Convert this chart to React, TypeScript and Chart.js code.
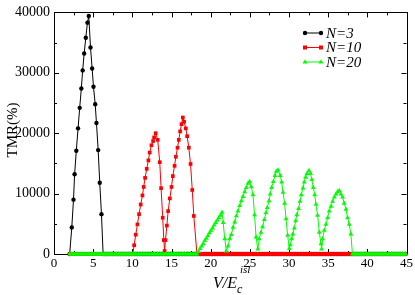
import React, { useEffect, useRef } from "react";
import { Chart, registerables } from "chart.js";

Chart.register(...registerables);

// ---- axis ticks ----
const X_TICKS = [0, 5, 10, 15, 20, 25, 30, 35, 40, 45];
const Y_TICKS = [0, 10000, 20000, 30000, 40000];

// ---- series ----
const SERIES_NAMES = ["N=3", "N=10", "N=20"];
const SAMPLE_STEP = 0.2; // spacing of the baseline (zero) samples

// N=3 : non-zero part [V/Ec, TMR%]
const N3_PEAK: [number, number][] = [
  [2.0, 0], [2.27, 4400], [2.49, 9000], [2.63, 13200], [2.85, 17100],
  [3.07, 20800], [3.28, 24200], [3.49, 27400], [3.66, 30400], [3.85, 33200],
  [4.06, 35800], [4.27, 38300], [4.44, 39400], [4.66, 34200], [4.87, 30700],
  [5.04, 27700], [5.26, 24800], [5.42, 21700], [5.64, 17200], [5.84, 11800],
  [6.06, 6600], [6.27, 0],
];
const N3_ZERO_RUNS: [number, number][] = [[6.47, 45]];

// N=10
const N10_PEAK: [number, number][] = [
  [10.05, 0], [10.23, 1450], [10.44, 3200], [10.65, 4900], [10.86, 6600],
  [11.07, 8200], [11.29, 9700], [11.45, 11100], [11.63, 12600], [11.84, 14100],
  [12.05, 15500], [12.22, 16800], [12.44, 18000], [12.65, 18700], [12.78, 19300],
  [12.98, 20000], [13.24, 18900], [13.5, 15200], [13.67, 10900], [13.88, 6000],
  [14.02, 2300], [14.12, 500],
  [14.23, 2300], [14.41, 4700], [14.57, 7100], [14.79, 9200], [15.0, 11100],
  [15.17, 12900], [15.39, 14600], [15.56, 16100], [15.77, 17600], [15.93, 18900],
  [16.1, 20300], [16.28, 21500], [16.45, 22600], [16.61, 21900], [16.83, 20800],
  [17.0, 19500], [17.21, 17600], [17.43, 14900], [17.65, 10600], [17.85, 6300],
  [18.25, 0],
];
const N10_ZERO_RUNS: [number, number][] = [[2.0, 9.85], [18.45, 45]];

// N=20
const N20_PEAK: [number, number][] = [
  [18.25, 0], [18.45, 400], [18.65, 900], [18.85, 1300], [19.05, 1700],
  [19.25, 2200], [19.45, 2600], [19.65, 3000], [19.85, 3500], [20.05, 3900],
  [20.25, 4300], [20.45, 4800], [20.65, 5200], [20.85, 5600], [21.05, 6000],
  [21.25, 6400], [21.45, 6900], [21.6, 5200], [21.8, 2500], [22.0, 500],
  [22.22, 1300], [22.43, 2500], [22.64, 3200], [22.86, 4400], [23.07, 5300],
  [23.28, 6300], [23.49, 7100], [23.7, 8000], [23.92, 8800], [24.13, 9500],
  [24.34, 10300], [24.55, 11000], [24.77, 11700], [24.98, 12000], [25.19, 11100],
  [25.4, 9800], [25.6, 6500], [25.8, 2800], [26.02, 800],
  [26.2, 2500], [26.43, 3600], [26.63, 4500], [26.85, 5700], [27.06, 6800],
  [27.23, 7700], [27.45, 8800], [27.6, 9900], [27.78, 11000], [28.0, 12000],
  [28.21, 13000], [28.38, 13700], [28.6, 13900], [28.89, 13000], [29.06, 11900],
  [29.24, 10200], [29.44, 8400], [29.62, 5800], [29.83, 3100], [30.04, 900],
  [30.17, 1500], [30.34, 2500], [30.5, 3300], [30.68, 4300], [30.85, 5500],
  [31.0, 6500], [31.22, 7500], [31.4, 8700], [31.57, 9800], [31.78, 10900],
  [31.95, 11900], [32.12, 12700], [32.3, 13300], [32.55, 13800], [32.75, 13300],
  [32.92, 12300], [33.1, 11000], [33.28, 9800], [33.45, 8200], [33.65, 6400],
  [33.87, 3600], [34.08, 1700], [34.16, 800],
  [34.29, 2500], [34.5, 3900], [34.72, 4900], [34.93, 6000], [35.14, 7100],
  [35.36, 7900], [35.56, 8700], [35.78, 9400], [36.0, 9900], [36.2, 10300],
  [36.42, 10500], [36.63, 9900], [36.84, 9400], [37.05, 8400], [37.27, 7400],
  [37.48, 6000], [37.69, 4900], [37.9, 3300], [38.1, 0],
];
const N20_ZERO_RUNS: [number, number][] = [[2.0, 18.05], [38.3, 45]];

const COLORS = ["#000000", "#ff0000", "#00ff00"];
const SERIF = "'Liberation Serif', 'DejaVu Serif', serif";

function buildSeries(peak: [number, number][], runs: [number, number][]) {
  const pts: { x: number; y: number }[] = peak.map(([x, y]) => ({ x, y }));
  runs.forEach(([a, b]) => {
    for (let i = 0; a + i * SAMPLE_STEP <= b + 1e-9; i++) {
      pts.push({ x: +(a + i * SAMPLE_STEP).toFixed(3), y: 0 });
    }
  });
  pts.sort((p, q) => p.x - q.x);
  return pts;
}

const frameAndTicks = {
  id: "frameAndTicks",
  beforeDatasetsDraw(chart: any) {
    const { ctx, chartArea } = chart;
    const { left, right, top, bottom } = chartArea;
    const xs = chart.scales.x;
    const ys = chart.scales.y;
    ctx.save();
    ctx.strokeStyle = "#000";
    ctx.lineWidth = 1;
    ctx.strokeRect(Math.round(left) + 0.5, Math.round(top) + 0.5, Math.round(right - left), Math.round(bottom - top));
    ctx.beginPath();
    for (let i = 0; i < X_TICKS.length; i++) {
      const v = X_TICKS[i];
      const px = Math.round(xs.getPixelForValue(v)) + 0.5;
      ctx.moveTo(px, bottom); ctx.lineTo(px, bottom - 5);
      ctx.moveTo(px, top); ctx.lineTo(px, top + 5);
      if (i < X_TICKS.length - 1) {
        const m = Math.round(xs.getPixelForValue((v + X_TICKS[i + 1]) / 2)) + 0.5;
        ctx.moveTo(m, bottom); ctx.lineTo(m, bottom - 3);
        ctx.moveTo(m, top); ctx.lineTo(m, top + 3);
      }
    }
    for (let i = 0; i < Y_TICKS.length; i++) {
      const v = Y_TICKS[i];
      const py = Math.round(ys.getPixelForValue(v)) + 0.5;
      ctx.moveTo(left, py); ctx.lineTo(left + 5, py);
      ctx.moveTo(right, py); ctx.lineTo(right - 5, py);
      if (i < Y_TICKS.length - 1) {
        const m = Math.round(ys.getPixelForValue((v + Y_TICKS[i + 1]) / 2)) + 0.5;
        ctx.moveTo(left, m); ctx.lineTo(left + 3, m);
        ctx.moveTo(right, m); ctx.lineTo(right - 3, m);
      }
    }
    ctx.stroke();
    ctx.restore();
  },
};

function drawMarker(ctx: CanvasRenderingContext2D, kind: number, x: number, y: number) {
  ctx.beginPath();
  if (kind === 0) {
    ctx.arc(x, y, 2.2, 0, Math.PI * 2);
  } else if (kind === 1) {
    ctx.rect(x - 2, y - 2, 4, 4);
  } else {
    ctx.moveTo(x, y - 2.8);
    ctx.lineTo(x + 2.5, y + 1.6);
    ctx.lineTo(x - 2.5, y + 1.6);
    ctx.closePath();
  }
  ctx.fill();
}

const legendAndTitles = {
  id: "legendAndTitles",
  afterDraw(chart: any) {
    const { ctx } = chart;
    ctx.save();
    // legend
    const rows = [33, 47.5, 62];
    SERIES_NAMES.forEach((name, i) => {
      const y = rows[i];
      ctx.strokeStyle = COLORS[i];
      ctx.fillStyle = COLORS[i];
      ctx.lineWidth = 1;
      ctx.beginPath();
      ctx.moveTo(305, y);
      ctx.lineTo(321, y);
      ctx.stroke();
      drawMarker(ctx, i, 305, y);
      drawMarker(ctx, i, 321, y);
      ctx.fillStyle = "#000";
      ctx.font = `italic 15px ${SERIF}`;
      ctx.textBaseline = "middle";
      ctx.textAlign = "left";
      ctx.fillText(name, 326, y + 1);
    });
    // y title
    ctx.save();
    ctx.translate(13, 130);
    ctx.rotate(-Math.PI / 2);
    ctx.font = `15px ${SERIF}`;
    ctx.fillStyle = "#000";
    ctx.textAlign = "center";
    ctx.textBaseline = "middle";
    ctx.fillText("TMR(%)", 0, 0);
    ctx.restore();
    // x title: V/E_c^isl
    ctx.fillStyle = "#000";
    ctx.textAlign = "left";
    ctx.textBaseline = "alphabetic";
    ctx.font = `italic 16px ${SERIF}`;
    ctx.fillText("V/E", 213, 288);
    const w = ctx.measureText("V/E").width;
    ctx.font = `italic 12px ${SERIF}`;
    ctx.fillText("c", 213 + w, 293);
    ctx.font = `italic 11px ${SERIF}`;
    ctx.fillText("isl", 213 + w + 3, 273);
    ctx.restore();
  },
};

export default function App() {
  const ref = useRef<HTMLCanvasElement | null>(null);
  useEffect(() => {
    if (!ref.current) return;
    const datasets = [
      { peak: N3_PEAK, runs: N3_ZERO_RUNS, style: "circle", r: 2.2, order: 2 },
      { peak: N10_PEAK, runs: N10_ZERO_RUNS, style: "rect", r: 2.6, order: 1 },
      { peak: N20_PEAK, runs: N20_ZERO_RUNS, style: "triangle", r: 2.8, order: 0 },
    ].map((d, i) => ({
      label: SERIES_NAMES[i],
      data: buildSeries(d.peak, d.runs),
      borderColor: COLORS[i],
      backgroundColor: COLORS[i],
      borderWidth: 1,
      pointStyle: d.style,
      pointRadius: d.r,
      pointBorderWidth: 0,
      pointBackgroundColor: COLORS[i],
      pointBorderColor: COLORS[i],
      tension: 0,
      clip: false as any,
      order: d.order,
    }));
    const chart = new Chart(ref.current, {
      type: "line",
      data: { datasets: datasets as any },
      options: {
        responsive: false,
        animation: false,
        events: [],
        layout: { padding: { top: 6, right: 8, left: 0, bottom: 0 } },
        plugins: { legend: { display: false }, tooltip: { enabled: false } },
        scales: {
          x: {
            type: "linear",
            min: 0,
            max: 45,
            grid: { display: false, drawTicks: false },
            border: { display: false },
            ticks: {
              font: { family: SERIF, size: 13 },
              color: "#000",
              padding: 2,
              autoSkip: false,
              maxRotation: 0,
              callback: (v: any) => String(v),
            },
            afterBuildTicks: (s: any) => {
              s.ticks = X_TICKS.map((v) => ({ value: v }));
            },
            afterFit: (s: any) => {
              s.height = 41;
            },
          },
          y: {
            type: "linear",
            min: 0,
            max: 40000,
            grid: { display: false, drawTicks: false },
            border: { display: false },
            ticks: {
              font: { family: SERIF, size: 14 },
              color: "#000",
              padding: 4,
              autoSkip: false,
              callback: (v: any) => String(v),
            },
            afterBuildTicks: (s: any) => {
              s.ticks = Y_TICKS.map((v) => ({ value: v }));
            },
            afterFit: (s: any) => {
              s.width = 54;
            },
          },
        },
      },
      plugins: [frameAndTicks, legendAndTitles],
    });
    return () => chart.destroy();
  }, []);
  return (
    <div style={{ position: "fixed", left: 0, top: 0, width: 415, height: 295, background: "#fff" }}>
      <canvas ref={ref} width={415} height={295} style={{ display: "block", width: 415, height: 295 }} />
    </div>
  );
}
